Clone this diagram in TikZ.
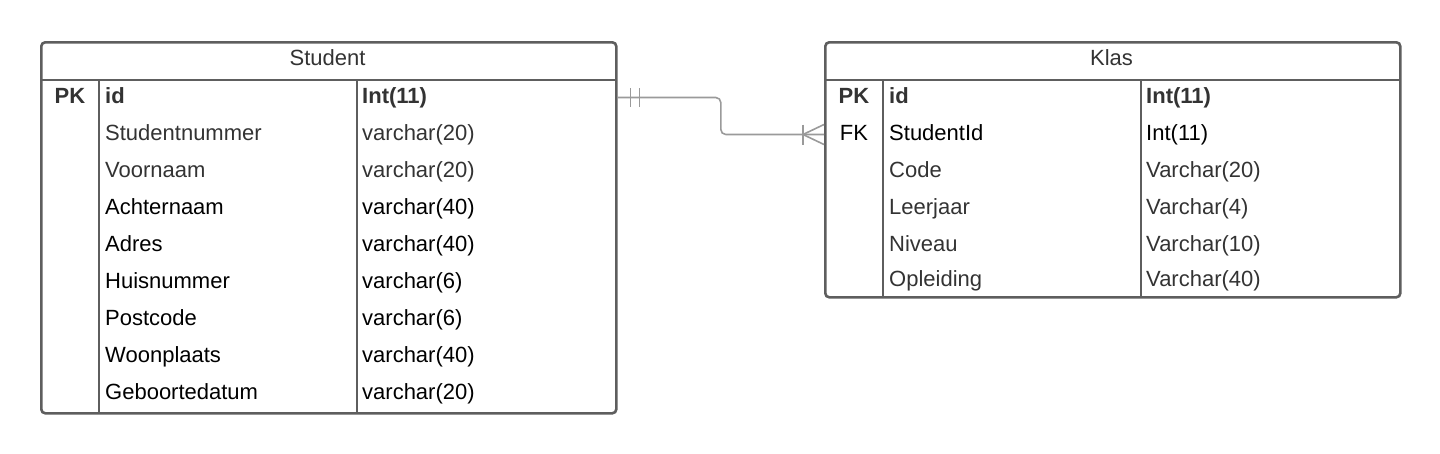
\documentclass[tikz,border=0pt]{standalone}
\usepackage{fontspec}
\setmainfont{Liberation Sans}
\usepackage{tikz}
\usetikzlibrary{calc}

\definecolor{frame}{HTML}{5E5E5E}
\definecolor{link}{HTML}{9A9A9A}
\definecolor{dim}{HTML}{333333}

\begin{document}
\begin{tikzpicture}[
  x=1pt, y=-1pt,
  tbl/.style={draw=frame, line width=2.6pt, rounded corners=4pt, inner sep=0pt, anchor=north west},
  sep/.style={draw=frame, line width=2.6pt},
  fld/.style={anchor=base west, inner sep=0pt, text height=16pt, text depth=4pt, font=\fontsize{22}{26}\selectfont},
  dimf/.style={fld, text=dim},
  bold/.style={fld, text=dim, font=\fontsize{22}{26}\selectfont\bfseries},
  key/.style={anchor=base, inner sep=0pt, font=\fontsize{22}{26}\selectfont},
  ttl/.style={anchor=base, inner sep=0pt, text=dim, font=\fontsize{22}{26}\selectfont},
  rel/.style={draw=link, line width=1.6pt}
]
  \useasboundingbox (0,0) rectangle (1440,453);

  % student
  \node[tbl, minimum width=575pt, minimum height=371pt] (stu) at (40,41) {};
  \draw[sep] (40,80) -- (615,80);
  \draw[sep] (99,80) -- (99,412);
  \draw[sep] (357,80) -- (357,412);
  \node[ttl] (stuttl) at (327.5,65) {Student};
  \node[key, text=dim, font=\fontsize{22}{26}\selectfont\bfseries] (stupk) at (70,103.5) {PK};
  \node[bold] (s1) at (105,103.5) {id};             \node[bold] (s1t) at (362,103.5) {Int(11)};
  \node[dimf] (s2) at (105,140.5) {Studentnummer};  \node[dimf] (s2t) at (362,140.5) {varchar(20)};
  \node[dimf] (s3) at (105,177.5) {Voornaam};       \node[dimf] (s3t) at (362,177.5) {varchar(20)};
  \node[fld] (s4) at (105,214.5) {Achternaam};      \node[fld] (s4t) at (362,214.5) {varchar(40)};
  \node[fld] (s5) at (105,251.5) {Adres};           \node[fld] (s5t) at (362,251.5) {varchar(40)};
  \node[fld] (s6) at (105,288.5) {Huisnummer};      \node[fld] (s6t) at (362,288.5) {varchar(6)};
  \node[fld] (s7) at (105,325.5) {Postcode};        \node[fld] (s7t) at (362,325.5) {varchar(6)};
  \node[fld] (s8) at (105,362.5) {Woonplaats};      \node[fld] (s8t) at (362,362.5) {varchar(40)};
  \node[fld] (s9) at (105,399.5) {Geboortedatum};   \node[fld] (s9t) at (362,399.5) {varchar(20)};

  % klas
  \node[tbl, minimum width=575pt, minimum height=255pt] (klas) at (824,41) {};
  \draw[sep] (824,80) -- (1399,80);
  \draw[sep] (883,80) -- (883,296);
  \draw[sep] (1141,80) -- (1141,296);
  \node[ttl] (klasttl) at (1111.5,65) {Klas};
  \node[key, text=dim, font=\fontsize{22}{26}\selectfont\bfseries] (klaspk) at (854,103.5) {PK};
  \node[key] (klasfk) at (854,140.5) {FK};
  \node[bold] (k1) at (889,103.5) {id};             \node[bold] (k1t) at (1146,103.5) {Int(11)};
  \node[fld] (k2) at (889,140.5) {StudentId};       \node[fld] (k2t) at (1146,140.5) {Int(11)};
  \node[dimf] (k3) at (889,177.5) {Code};           \node[dimf] (k3t) at (1146,177.5) {Varchar(20)};
  \node[dimf] (k4) at (889,214.5) {Leerjaar};       \node[dimf] (k4t) at (1146,214.5) {Varchar(4)};
  \node[dimf] (k5) at (889,251.5) {Niveau};         \node[dimf] (k5t) at (1146,251.5) {Varchar(10)};
  \node[dimf] (k6) at (889,286) {Opleiding};        \node[dimf] (k6t) at (1146,286) {Varchar(40)};

  % relation
  \coordinate (bend) at ($(stu.east |- s1)!.5!(klas.west |- s1)$);
  \draw[rel, rounded corners=5pt] (stu.east |- s1) -- (bend) |- (klas.west |- k2);
  \draw[rel] ([xshift=13pt]stu.east |- s1) +(0,-9.5) -- +(0,9.5);
  \draw[rel] ([xshift=22pt]stu.east |- s1) +(0,-9.5) -- +(0,9.5);
  \draw[rel] ([xshift=-21pt]klas.west |- k2) +(0,-10) -- +(0,10);
  \draw[rel] ([xshift=-21pt]klas.west |- k2) -- ([yshift=10pt]klas.west |- k2);
  \draw[rel] ([xshift=-21pt]klas.west |- k2) -- ([yshift=-10pt]klas.west |- k2);
\end{tikzpicture}
\end{document}
